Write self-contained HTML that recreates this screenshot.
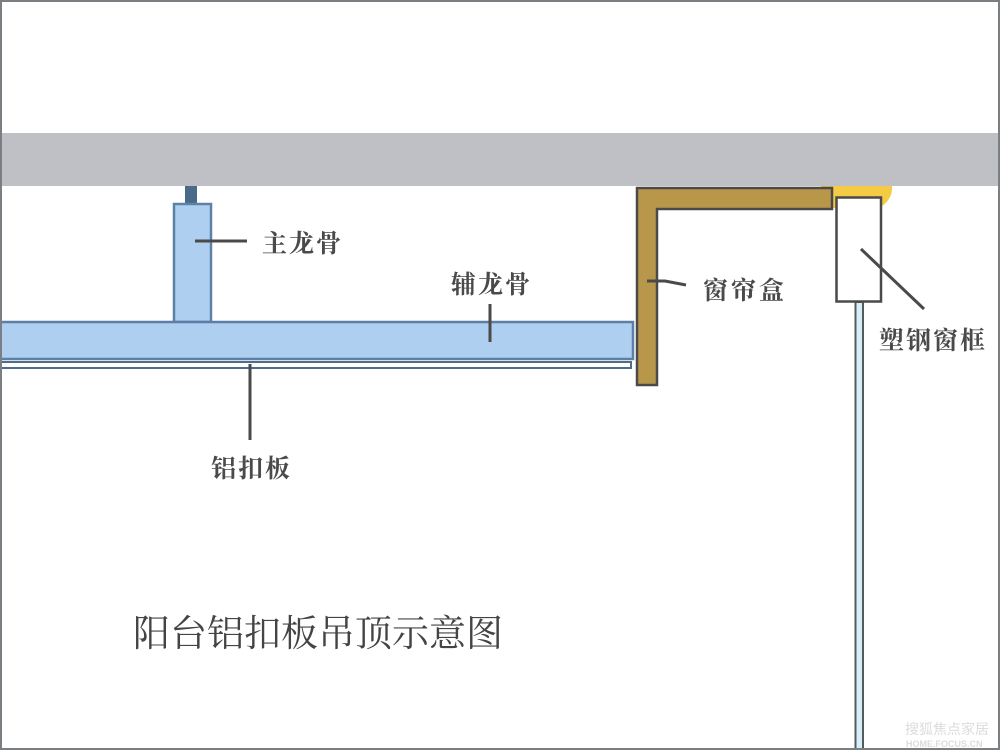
<!DOCTYPE html>
<html><head><meta charset="utf-8"><style>
html,body{margin:0;padding:0;background:#fff;}
svg{display:block;}
.lb{font-family:"Liberation Serif","Noto Serif CJK SC",serif;font-weight:bold;fill:#4a4a4a;}
</style></head><body>
<svg width="1000" height="750" viewBox="0 0 1000 750" xmlns="http://www.w3.org/2000/svg">
<rect x="0" y="0" width="1000" height="750" fill="#fff"/>
<!-- ceiling -->
<rect x="0" y="133" width="1000" height="53" fill="#bfc0c5"/>
<!-- yellow sealant -->
<path d="M821,186 L892,186 Q893,200 879,208 L821,208 Z" fill="#f5cb45"/>
<!-- hanger rod -->
<rect x="185" y="186" width="12" height="17" fill="#4a6a8a"/>
<!-- main keel -->
<rect x="174" y="204" width="37" height="118" fill="#aecff0" stroke="#5d82a8" stroke-width="2.5"/>
<!-- secondary keel -->
<rect x="-2" y="322" width="635" height="37" fill="#aecff0" stroke="#5b7fa5" stroke-width="2.5"/>
<!-- aluminum plate -->
<rect x="-2" y="362" width="633" height="6" fill="#fff" stroke="#4d6d8d" stroke-width="2"/>
<!-- curtain box -->
<path d="M637,188 L832,188 L832,209 L657,209 L657,385 L637,385 Z" fill="#b8974a" stroke="#4a4a4a" stroke-width="2.5"/>
<!-- glass -->
<rect x="855.5" y="302" width="7.5" height="460" fill="#d6eef8" stroke="#555a5e" stroke-width="2"/>
<!-- window frame -->
<rect x="836.5" y="197.5" width="44.5" height="104" fill="#fff" stroke="#4a4a4a" stroke-width="2.5"/>
<!-- leader lines -->
<line x1="195" y1="241" x2="247" y2="241" stroke="#4a4a4a" stroke-width="3"/>
<line x1="490" y1="304" x2="490" y2="342" stroke="#4a4a4a" stroke-width="3"/>
<line x1="250" y1="364" x2="250" y2="440" stroke="#4a4a4a" stroke-width="3"/>
<path d="M647,281 L665,281 L686,285" stroke="#4a4a4a" stroke-width="3" fill="none"/>
<line x1="861" y1="249" x2="924" y2="309" stroke="#4a4a4a" stroke-width="3"/>
<!-- labels -->
<text class="lb" x="262" y="252" font-size="25" letter-spacing="2">主龙骨</text>
<text class="lb" x="451" y="293" font-size="25" letter-spacing="2">辅龙骨</text>
<text class="lb" x="211" y="477" font-size="25" letter-spacing="2">铝扣板</text>
<text class="lb" x="703" y="299" font-size="25" letter-spacing="3">窗帘盒</text>
<text class="lb" x="879" y="349" font-size="25" letter-spacing="2">塑钢窗框</text>
<text x="133" y="646" font-size="37" fill="#444" font-family="'Liberation Serif','Noto Serif CJK SC',serif">阳台铝扣板吊顶示意图</text>
<!-- watermark -->
<text x="905" y="734" font-size="14" fill="#dcdcdc" font-family="'Liberation Sans','Noto Sans CJK SC',sans-serif">搜狐焦点家居</text>
<text x="906" y="747" font-size="9" fill="#dcdcdc" font-family="'Liberation Sans',sans-serif" font-weight="bold">HOME.FOCUS.CN</text>
<!-- outer frame -->
<rect x="1" y="1" width="998" height="748" fill="none" stroke="#7a7f84" stroke-width="2"/>
</svg>
</body></html>
